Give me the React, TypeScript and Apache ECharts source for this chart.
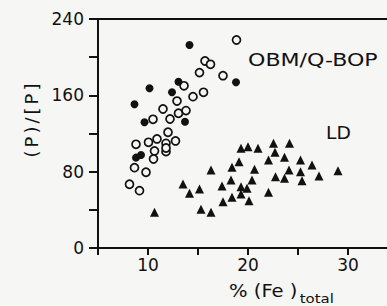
import React, { useEffect, useRef } from "react";
import * as echarts from "echarts";

const filledBOP: [number, number][] = [
  [14.15, 212.8], [10.15, 167.4], [8.65, 150.6], [13.05, 174.3], [12.4, 163.2],
  [9.65, 131.8], [13.7, 132.4], [18.8, 173.7], [8.8, 94.7], [9.3, 97.5],
];

const openBOP: [number, number][] = [
  [15.7, 196], [16.25, 192.5], [17.5, 180.6], [15.15, 183.8], [13.6, 170],
  [14.5, 158.6], [15.55, 163.2], [12.9, 154], [11.5, 145.7], [13.05, 141.2],
  [13.8, 144], [12.2, 135.2], [10.5, 134.9], [12.0, 121.3], [8.8, 108.7],
  [10.05, 110.8], [10.9, 114.3], [11.8, 109.7], [12.75, 112.2], [10.65, 101.7],
  [11.8, 101], [11.8, 104.8], [10.55, 93.3], [8.65, 84.2], [9.8, 79.4],
  [8.15, 66.8], [9.15, 60.1], [18.85, 218],
];

const triLD: [number, number][] = [
  [19.3, 104.5], [20.0, 106.2], [21.0, 104.5], [22.55, 109.7], [24.15, 109.7],
  [22.7, 100.3], [23.65, 95], [22.05, 92.2], [25.25, 92.2], [26.4, 87],
  [19.1, 90.5], [18.4, 84.6], [16.3, 81.8], [20.65, 82.5], [24.1, 81.8],
  [25.25, 80], [29.0, 81], [22.75, 74.7], [23.65, 73.1], [27.1, 75.5],
  [25.4, 70.5], [18.3, 71.3], [20.4, 71.3], [13.5, 67.1], [15.15, 61.8],
  [14.15, 57.3], [17.4, 65], [19.3, 64.3], [19.9, 62.6], [19.3, 56.6],
  [18.4, 53.1], [22.05, 58.4], [17.5, 48.5], [20.1, 49.6], [15.3, 40.6],
  [16.3, 37.4], [10.65, 37.4],
];

const xTickLabels = [10, 20, 30];
const yTickLabels = [0, 80, 160, 240];
const yTitleChars = ["(", "P", ")", "/", "[", "P", "]"];

const BG = "#f6f6f4";
const INK = "#111";
const FONT = "DejaVu Sans";

export default function App() {
  const ref = useRef<HTMLDivElement>(null);
  useEffect(() => {
    if (!ref.current) return;
    const chart = echarts.init(ref.current, undefined, { renderer: "svg" });
    chart.setOption({
      animation: false,
      backgroundColor: BG,
      grid: { left: 98, right: 0, top: 19, bottom: 58 },
      xAxis: [
        {
          type: "value",
          min: 5,
          max: 33.9,
          interval: 5,
          splitLine: { show: false },
          axisLine: { lineStyle: { color: INK, width: 2 } },
          axisTick: { length: 7, lineStyle: { color: INK, width: 2 } },
          axisLabel: {
            color: INK,
            fontFamily: FONT,
            fontSize: 17,
            margin: 8,
            showMaxLabel: false,
            formatter: (v: number) => (xTickLabels.includes(v) ? String(v) : ""),
          },
        },
        {
          type: "value",
          position: "top",
          min: 5,
          max: 33.9,
          axisLine: { show: true, lineStyle: { color: INK, width: 2 } },
          axisTick: { show: false },
          axisLabel: { show: false },
          splitLine: { show: false },
        },
      ],
      yAxis: {
        type: "value",
        min: 0,
        max: 240,
        interval: 40,
        name: yTitleChars.map((c) => `{c|${c}}`).join(""),
        nameLocation: "middle",
        nameRotate: 90,
        nameGap: 46,
        nameTextStyle: {
          padding: [0, 0, 0, 26],
          rich: {
            c: { fontFamily: FONT, fontSize: 18, color: INK, padding: [0, 1.5, 0, 1.5] },
          },
        },
        splitLine: { show: false },
        axisLine: { show: true, lineStyle: { color: INK, width: 2 } },
        axisTick: { length: 9, lineStyle: { color: INK, width: 2 } },
        axisLabel: {
          color: INK,
          fontFamily: FONT,
          fontSize: 17,
          margin: 14,
          formatter: (v: number) => (yTickLabels.includes(v) ? String(v) : ""),
        },
      },
      graphic: [
        {
          type: "text",
          x: 248,
          y: 52,
          scaleX: 1.3,
          style: { text: "OBM/Q-BOP", fontFamily: FONT, fontSize: 17, fill: INK },
        },
        {
          type: "text",
          x: 326,
          y: 124,
          scaleX: 1.1,
          style: { text: "LD", fontFamily: FONT, fontSize: 17, fill: INK },
        },
        {
          type: "text",
          x: 229,
          y: 282,
          scaleX: 1.15,
          style: {
            text: "{a|% (Fe )}{b|total}",
            fill: INK,
            rich: {
              a: { fontFamily: FONT, fontSize: 17, fill: INK, verticalAlign: "top" },
              b: { fontFamily: FONT, fontSize: 13, fill: INK, padding: [10, 0, 0, 2] },
            },
          },
        },
      ],
      series: [
        {
          type: "scatter",
          data: openBOP,
          symbol: "circle",
          symbolSize: 8,
          itemStyle: { color: BG, borderColor: INK, borderWidth: 1.7, opacity: 1 },
        },
        {
          type: "scatter",
          data: filledBOP,
          symbol: "circle",
          symbolSize: 8,
          itemStyle: { color: INK, opacity: 1 },
        },
        {
          type: "scatter",
          data: triLD,
          symbol: "triangle",
          symbolSize: 9,
          itemStyle: { color: INK, opacity: 1 },
        },
      ],
    });
    return () => chart.dispose();
  }, []);
  return (
    <div
      ref={ref}
      style={{ position: "fixed", left: 0, top: 0, width: 387, height: 306 }}
    />
  );
}
